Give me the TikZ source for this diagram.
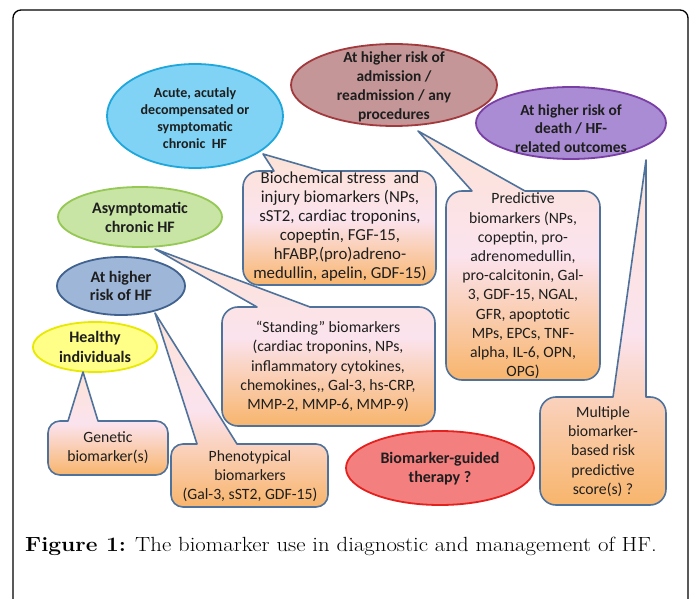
\documentclass[tikz,border=0pt]{standalone}
\usepackage{fontspec}
\usepackage{graphicx}
\newfontfamily\carl{Carlito}
\usetikzlibrary{shapes.geometric}
\definecolor{txt}{HTML}{1E1E1E}
\definecolor{cborder}{HTML}{4F729C}
\definecolor{ctop}{HTML}{FCE3D6}
\definecolor{cmid}{HTML}{FBE3EE}
\definecolor{cbot}{HTML}{F8B56C}
\definecolor{acuteD}{HTML}{1FA6DB}\definecolor{acuteF}{HTML}{80D3F4}
\definecolor{admD}{HTML}{A2393D}\definecolor{admF}{HTML}{C59697}
\definecolor{deathD}{HTML}{7A3FA5}\definecolor{deathF}{HTML}{A98CD3}
\definecolor{asymD}{HTML}{95C855}\definecolor{asymF}{HTML}{C8E5A6}
\definecolor{riskD}{HTML}{41628F}\definecolor{riskF}{HTML}{9EB7D9}
\definecolor{healD}{HTML}{E8E800}\definecolor{healF}{HTML}{FFFF88}
\definecolor{therD}{HTML}{E3211F}\definecolor{therF}{HTML}{F47F7F}
\tikzset{
  ell/.style={ellipse, line width=1.8pt, inner sep=0pt},
  etext/.style={align=center, text=txt, inner sep=0pt},
  ctext/.style={align=center, text=txt, font=\carl\fontsize{15.7}{19.2}\selectfont, inner sep=0pt},
  callout/.style={draw=cborder, line width=1.6pt, top color=ctop, bottom color=cbot, middle color=cmid, line join=round},
}
\newcommand{\ef}[2]{\carl\bfseries\fontsize{#1}{#2}\selectfont}
\begin{document}
\begin{tikzpicture}[x=1pt,y=-1pt]
\useasboundingbox (0,0) rectangle (691,599);
\fill[white] (0,0) rectangle (691,599);
% frame
\draw[line width=1.3pt, rounded corners=8pt] (13,603) -- (13,10) -- (688,10) -- (688,603);

% ellipses
\node[ell, draw=acuteD, fill=acuteF, minimum width=176pt, minimum height=104pt] (acute) at (195,116) {};
\node[etext, font=\ef{14}{17}] (acuteT) at (195,118.5) {Acute, acutaly\\decompensated or\\symptomatic\\chronic\ \ HF};

\node[ell, draw=admD, fill=admF, minimum width=206pt, minimum height=82pt] (adm) at (394,85) {};
\node[etext, font=\ef{15.4}{19}] (admT) at (394,86.5) {At higher risk of\\admission /\\readmission / any\\procedures};

\node[ell, draw=deathD, fill=deathF, minimum width=190pt, minimum height=72pt] (death) at (571,123) {};
\node[etext, font=\ef{15.4}{18.5}] (deathT) at (571,128.5) {At higher risk of\\death / HF-\\related outcomes};

\node[ell, draw=asymD, fill=asymF, minimum width=164pt, minimum height=60pt] (asym) at (140,217) {};
\node[etext, font=\ef{16}{19}] (asymT) at (140,217.5) {Asymptomatic\\chronic HF};

\node[ell, draw=riskD, fill=riskF, minimum width=128pt, minimum height=58pt] (risk) at (121,286) {};
\node[etext, font=\ef{16}{18}] (riskT) at (121,286) {At higher\\risk of HF};

\node[ell, draw=healD, fill=healF, minimum width=124pt, minimum height=50pt] (healthy) at (95,347) {};
\node[etext, font=\ef{16}{20}] (healthyT) at (95,347) {Healthy\\individuals};

\node[ell, draw=therD, fill=therF, minimum width=188pt, minimum height=74pt] (ther) at (440,468) {};
\node[etext, font=\ef{16}{19}] (therT) at (440,468.5) {Biomarker-guided\\therapy ?};

% callouts
\path[callout] (274,171) -- (263,154) -- (322,171) [rounded corners=16pt] -- (436,171) -- (436,285) -- (243,285) -- (243,171) [sharp corners] -- (274,171) -- cycle;
\node[ctext, font=\carl\fontsize{16.8}{19}\selectfont] (bioT) at (340,227) {Biochemical stress\ \ and\\injury biomarkers (NPs,\\sST2, cardiac troponins,\\copeptin, FGF-15,\\hFABP,(pro)adreno-\\medullin, apelin, GDF-15)};

\path[callout] (257,307) -- (155,249) -- (310,307) [rounded corners=16pt] -- (435,307) -- (435,426) -- (222,426) -- (222,307) [sharp corners] -- (257,307) -- cycle;
\node[ctext] (standT) at (328,366.5) {“Standing” biomarkers\\(cardiac troponins, NPs,\\inflammatory cytokines,\\chemokines,, Gal-3, hs-CRP,\\MMP-2, MMP-6, MMP-9)};

\path[callout] (472,191) -- (418,131) -- (525,191) [rounded corners=16pt] -- (600,191) -- (600,380) -- (446,380) -- (446,191) [sharp corners] -- (472,191) -- cycle;
\node[ctext] (predT) at (523,286) {Predictive\\biomarkers (NPs,\\copeptin, pro-\\adrenomedullin,\\pro-calcitonin, Gal-\\3, GDF-15, NGAL,\\GFR, apoptotic\\MPs, EPCs, TNF-\\alpha, IL-6, OPN,\\OPG)};

\path[callout] (68,421) -- (83,372) -- (98,421) [rounded corners=12pt] -- (168,421) -- (168,475) -- (48,475) -- (48,421) [sharp corners] -- (68,421) -- cycle;
\node[ctext] (genT) at (108,447.5) {Genetic\\biomarker(s)};

\path[callout] (197,444) -- (155,313) -- (237,444) [rounded corners=12pt] -- (328,444) -- (328,507) -- (171,507) -- (171,444) [sharp corners] -- (197,444) -- cycle;
\node[ctext] (phenT) at (250,476) {Phenotypical\\biomarkers\\(Gal-3, sST2, GDF-15)};

\path[callout] (613,397) -- (646,160) -- (646,397) [rounded corners=16pt] -- (666,397) -- (666,505) -- (540,505) -- (540,397) [sharp corners] -- (613,397) -- cycle;
\node[ctext] (multT) at (603,451.5) {Multiple\\biomarker-\\based risk\\predictive\\score(s) ?};

% caption
\node[anchor=base west, inner sep=0pt, font=\fontsize{20.5}{24}\selectfont] (cap) at (25,551) {\scalebox{1.11}[1]{\textbf{Figure 1:} The biomarker use in diagnostic and management of HF.}};
\end{tikzpicture}
\end{document}
